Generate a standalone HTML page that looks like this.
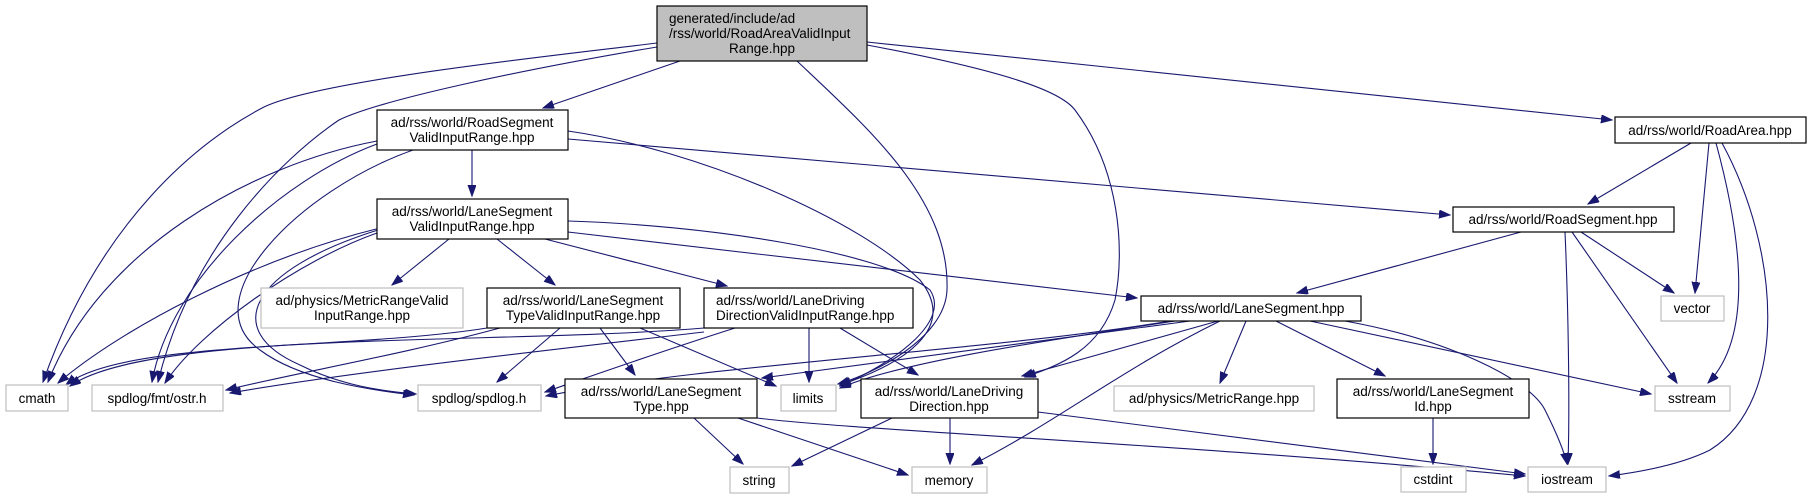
<!DOCTYPE html>
<html><head><meta charset="utf-8"><style>
html,body{margin:0;padding:0;background:#fff;}
svg{display:block;}
text{font-family:"Liberation Sans","DejaVu Sans",sans-serif;font-size:13.5px;fill:#000;}
.b{fill:#fff;stroke:#000;stroke-width:1.2;}
.g{fill:#fff;stroke:#bfbfbf;stroke-width:1.2;}
.e{fill:none;stroke:#191970;stroke-width:1.1;}
</style></head><body>
<svg width="1812" height="499" viewBox="0 0 1812 499" xmlns="http://www.w3.org/2000/svg">
<defs>
<marker id="a" markerUnits="userSpaceOnUse" markerWidth="12" markerHeight="10" refX="11" refY="4" orient="auto">
<path d="M0,0 L11,4 L0,8 z" fill="#191970" stroke="#191970"/>
</marker>
</defs>
<g marker-end="url(#a)" class="e">
<!-- root -->
<path d="M680,61 L543,108"/>
<path d="M657,43 C560,55 320,80 264,107 C200,140 100,220 43,382"/>
<path d="M657,47 C520,70 380,100 339,120 C280,160 190,250 158,382"/>
<path d="M797,61 C870,130 950,200 947,290 C945,340 870,375 838,384"/>
<path d="M867,45 C1000,70 1060,90 1075,110 C1120,170 1125,250 1115,300 C1100,350 1060,365 1025,377"/>
<path d="M867,42 L1612,120"/>
<!-- RSVIR -->
<path d="M472,150 L472,196"/>
<path d="M377,141 C250,165 100,250 48,382"/>
<path d="M377,144 C280,180 170,280 152,382"/>
<path d="M413,150 C300,190 190,300 260,350 C300,380 370,390 414,395"/>
<path d="M568,131 C700,150 860,220 920,280 C960,330 900,365 840,385"/>
<path d="M568,139 L1450,215"/>
<!-- LSVIR -->
<path d="M380,228 C250,260 120,330 58,383"/>
<path d="M377,233 C300,260 200,330 165,383"/>
<path d="M378,230 C250,270 220,330 300,365 C340,385 380,391 416,394"/>
<path d="M449,239 L392,285"/>
<path d="M497,239 L555,285"/>
<path d="M545,239 L727,286"/>
<path d="M568,221 C700,225 880,250 930,290 C950,320 900,360 840,386"/>
<path d="M568,232 L1137,298"/>
<!-- LSTVIR -->
<path d="M487,328 C350,350 120,340 66,385"/>
<path d="M500,328 C400,355 300,372 226,390"/>
<path d="M560,328 L497,382"/>
<path d="M600,328 L635,375"/>
<path d="M640,328 L776,386"/>
<!-- LDDVIR -->
<path d="M704,328 C500,345 150,330 70,386"/>
<path d="M704,332 C550,350 350,372 230,393"/>
<path d="M735,328 C650,355 580,380 545,392"/>
<path d="M809,328 L809,382"/>
<path d="M840,328 L918,375"/>
<!-- LaneSegment -->
<path d="M1170,321 C1000,350 700,365 546,396"/>
<path d="M1175,321 C1050,340 900,362 840,388"/>
<path d="M1190,321 L762,378"/>
<path d="M1218,321 L1022,376"/>
<path d="M1220,321 C1120,370 1060,420 972,465"/>
<path d="M1246,321 L1220,383"/>
<path d="M1276,321 L1385,376"/>
<path d="M1310,321 L1651,394"/>
<path d="M1345,321 C1450,340 1530,380 1545,410 C1560,440 1565,455 1567,464"/>
<!-- RoadSegment -->
<path d="M1521,232 L1297,293"/>
<path d="M1565,232 C1568,300 1570,400 1568,464"/>
<path d="M1572,232 L1677,383"/>
<path d="M1581,232 L1674,293"/>
<!-- RoadArea -->
<path d="M1691,143 L1588,204"/>
<path d="M1709,143 L1695,293"/>
<path d="M1716,143 C1745,250 1750,340 1708,383"/>
<path d="M1722,143 C1780,250 1790,400 1710,450 C1680,465 1640,472 1609,476"/>
<!-- LST -->
<path d="M694,418 L743,464"/>
<path d="M738,418 L908,475"/>
<path d="M757,418 C850,430 1200,445 1525,476"/>
<!-- LDD -->
<path d="M892,418 L792,466"/>
<path d="M950,418 L950,464"/>
<path d="M1038,412 L1525,474"/>
<!-- LSId -->
<path d="M1433,418 L1433,464"/>
</g>

<!-- nodes -->
<rect x="657" y="6" width="210" height="55" fill="#bfbfbf" stroke="#000" stroke-width="1.2"/>
<text x="669" y="23">generated/include/ad</text>
<text x="669" y="38">/rss/world/RoadAreaValidInput</text>
<text x="762" y="53" text-anchor="middle">Range.hpp</text>

<rect class="b" x="377" y="110" width="191" height="40"/>
<text x="472" y="127" text-anchor="middle">ad/rss/world/RoadSegment</text>
<text x="472" y="142" text-anchor="middle">ValidInputRange.hpp</text>

<rect class="b" x="377" y="199" width="191" height="40"/>
<text x="472" y="216" text-anchor="middle">ad/rss/world/LaneSegment</text>
<text x="472" y="231" text-anchor="middle">ValidInputRange.hpp</text>

<rect class="g" x="261" y="288" width="202" height="40"/>
<text x="362" y="305" text-anchor="middle" fill="#000">ad/physics/MetricRangeValid</text>
<text x="362" y="320" text-anchor="middle">InputRange.hpp</text>

<rect class="b" x="487" y="288" width="193" height="40"/>
<text x="583" y="305" text-anchor="middle">ad/rss/world/LaneSegment</text>
<text x="583" y="320" text-anchor="middle">TypeValidInputRange.hpp</text>

<rect class="b" x="704" y="288" width="209" height="40"/>
<text x="716" y="305">ad/rss/world/LaneDriving</text>
<text x="716" y="320">DirectionValidInputRange.hpp</text>

<rect class="g" x="6" y="385" width="62" height="26"/>
<text x="37" y="403" text-anchor="middle">cmath</text>
<rect class="g" x="92" y="385" width="131" height="26"/>
<text x="157" y="403" text-anchor="middle">spdlog/fmt/ostr.h</text>
<rect class="g" x="418" y="385" width="123" height="26"/>
<text x="479" y="403" text-anchor="middle">spdlog/spdlog.h</text>

<rect class="b" x="565" y="379" width="192" height="39"/>
<text x="661" y="396" text-anchor="middle">ad/rss/world/LaneSegment</text>
<text x="661" y="411" text-anchor="middle">Type.hpp</text>

<rect class="g" x="781" y="385" width="55" height="26"/>
<text x="808" y="403" text-anchor="middle">limits</text>

<rect class="b" x="861" y="379" width="177" height="39"/>
<text x="949" y="396" text-anchor="middle">ad/rss/world/LaneDriving</text>
<text x="949" y="411" text-anchor="middle">Direction.hpp</text>

<rect class="g" x="730" y="467" width="59" height="26"/>
<text x="759" y="485" text-anchor="middle">string</text>
<rect class="g" x="912" y="467" width="75" height="26"/>
<text x="949" y="485" text-anchor="middle">memory</text>

<rect class="g" x="1114" y="386" width="200" height="25"/>
<text x="1214" y="403" text-anchor="middle">ad/physics/MetricRange.hpp</text>

<rect class="b" x="1337" y="379" width="192" height="39"/>
<text x="1433" y="396" text-anchor="middle">ad/rss/world/LaneSegment</text>
<text x="1433" y="411" text-anchor="middle">Id.hpp</text>

<rect class="g" x="1401" y="467" width="65" height="25"/>
<text x="1433" y="484" text-anchor="middle">cstdint</text>
<rect class="g" x="1528" y="467" width="78" height="25"/>
<text x="1567" y="484" text-anchor="middle">iostream</text>
<rect class="g" x="1655" y="386" width="75" height="25"/>
<text x="1692" y="403" text-anchor="middle">sstream</text>
<rect class="g" x="1661" y="296" width="63" height="25"/>
<text x="1692" y="313" text-anchor="middle">vector</text>

<rect class="b" x="1141" y="296" width="220" height="25"/>
<text x="1251" y="313" text-anchor="middle">ad/rss/world/LaneSegment.hpp</text>
<rect class="b" x="1453" y="207" width="221" height="25"/>
<text x="1563" y="224" text-anchor="middle">ad/rss/world/RoadSegment.hpp</text>
<rect class="b" x="1615" y="117" width="191" height="26"/>
<text x="1710" y="135" text-anchor="middle">ad/rss/world/RoadArea.hpp</text>
</svg>
</body></html>
